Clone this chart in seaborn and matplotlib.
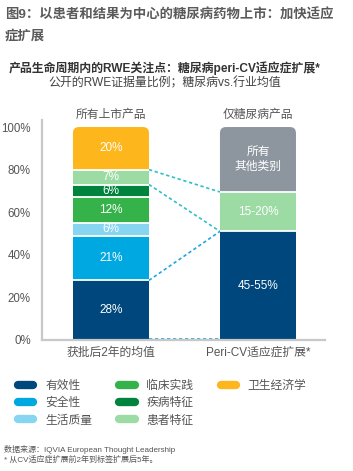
import numpy as np
import pandas as pd
import matplotlib
matplotlib.use("Agg")
import matplotlib.pyplot as plt
import seaborn as sns
from matplotlib.patches import FancyBboxPatch, Rectangle
from matplotlib.lines import Line2D

# data
products = ["获批后2年的均值", "Peri-CV适应症扩展*"]
top_labels = ["所有上市产品", "仅糖尿病产品"]
all_segments = ["有效性", "安全性", "生活质量", "临床实践", "疾病特征", "患者特征", "卫生经济学"]
all_values = [28, 21, 6, 12, 6, 7, 20]
all_texts = ["28%", "21%", "6%", "12%", "6%", "7%", "20%"]
dm_segments = ["有效性", "患者特征", "所有其他类别"]
dm_values = [51, 18.5, 30.5]
dm_texts = ["45-55%", "15-20%", "所有\n其他类别"]
yticks = [0, 20, 40, 60, 80, 100]

colors = {
    "有效性": "#00477d",
    "安全性": "#00a8e1",
    "生活质量": "#86d6f2",
    "临床实践": "#35b34a",
    "疾病特征": "#00833d",
    "患者特征": "#9cdba4",
    "卫生经济学": "#fdb61b",
    "所有其他类别": "#8d969f",
}

sns.set_style("white")
plt.rcParams["font.family"] = ["Liberation Sans", "Noto Sans CJK SC", "DejaVu Sans"]

W, H = 353, 471
fig = plt.figure(figsize=(W / 100, H / 100), dpi=100)
ax = fig.add_axes([42 / W, 1 - 340 / H, 283 / W, 220 / H])

bar_w = 0.517
rows = []
for seg, v, t in zip(all_segments, all_values, all_texts):
    rows.append((products[0], seg, v, t))
for seg, v, t in zip(dm_segments, dm_values, dm_texts):
    rows.append((products[1], seg, v, t))
df = pd.DataFrame(rows, columns=["product", "segment", "value", "text"])
df["bottom"] = df.groupby("product")["value"].cumsum() - df["value"]

for i, r in df.iterrows():
    sns.barplot(x=[r["product"]], y=[r["value"]], order=products, bottom=r["bottom"],
                color=colors[r["segment"]], width=bar_w, linewidth=0, saturation=1,
                ax=ax)
    xi = products.index(r["product"])
    ax.text(xi, r["bottom"] + r["value"] / 2, r["text"], ha="center", va="center",
            color="white", fontsize=8.5, linespacing=1.3)

# rounded tops for last segment of each bar
xpx = 1 / 147.0
aspect = (100 / 213.0) / xpx
for p in products:
    sub = df[df["product"] == p]
    last = sub.iloc[-1]
    xi = products.index(p)
    x0 = xi - bar_w / 2
    c = colors[last["segment"]]
    for patch in ax.patches:
        if abs(patch.get_x() - x0) < 1e-6 and abs(patch.get_y() - last["bottom"]) < 1e-6:
            patch.set_visible(False)
    ax.add_patch(FancyBboxPatch((x0, last["bottom"]), bar_w, last["value"],
                                boxstyle="round,pad=0,rounding_size=%f" % (6 * xpx),
                                mutation_aspect=aspect, fc=c, ec="none", zorder=2))
    ax.add_patch(Rectangle((x0, last["bottom"]), bar_w, last["value"] / 2,
                           fc=c, ec="none", zorder=2))
    bounds = sub["bottom"].values[1:]
    ax.hlines(bounds, x0, x0 + bar_w, color="white", lw=1.3, zorder=3)
    ax.text(xi, 105.8, top_labels[xi], ha="center", va="center", fontsize=8.5,
            color="#555555", clip_on=False)

# connector lines
e = bar_w / 2
b1 = np.cumsum([0] + all_values)
b2 = np.cumsum([0] + dm_values)
teal = "#2fc0c8"
blue = "#1ea7e1"
ax.plot([e, 1 - e], [b1[6], b2[2]], color=teal, lw=1.2, ls=(0, (2, 1.6)), zorder=1)
ax.plot([e, 1 - e], [b1[5], b2[1]], color=teal, lw=1.2, ls=(0, (2, 1.6)), zorder=1)
ax.plot([e, 1 - e], [b1[1], b2[1]], color=blue, lw=1.2, ls=(0, (2, 1.6)), zorder=1)
ax.plot([e, 1 - e], [0.6, 0.6], color=blue, lw=1.2, ls=(0, (2, 1.6)), zorder=1)

ax.set_xlim(-0.469, 1.456)
ax.set_ylim(0, 103.3)
ax.set_yticks(yticks)
ax.set_yticklabels([f"{t}%" for t in yticks], fontsize=8.3, color="#555555")
ax.set_xticks([0, 1])
ax.set_xticklabels(products, fontsize=8.5, color="#555555")
ax.tick_params(axis="both", length=0)
ax.tick_params(axis="y", pad=8)
ax.tick_params(axis="x", pad=5)
ax.set_xlabel("")
ax.set_ylabel("")
for s in ["top", "right"]:
    ax.spines[s].set_visible(False)
for s in ["left", "bottom"]:
    ax.spines[s].set_color("#c8c8c8")
    ax.spines[s].set_linewidth(1.6)

# titles
fig.text(5 / W, 1 - 15 / H, "图9：以患者和结果为中心的糖尿病药物上市：加快适应", fontsize=9.6,
         fontweight="bold", color="#5a5a5a", va="center", ha="left")
fig.text(5 / W, 1 - 36 / H, "症扩展", fontsize=9.6, fontweight="bold", color="#5a5a5a",
         va="center", ha="left")
fig.text(165 / W, 1 - 68 / H, "产品生命周期内的RWE关注点：糖尿病peri-CV适应症扩展*",
         fontsize=8.6, fontweight="bold", color="#333333", va="center", ha="center")
fig.text(165 / W, 1 - 83 / H, "公开的RWE证据量比例；糖尿病vs.行业均值", fontsize=8.6,
         color="#444444", va="center", ha="center")

# legend: 3 + 3 + 1 layout, padded with blank entries
handles = [Line2D([0], [0], color=colors[s], lw=6, solid_capstyle="round") for s in all_segments]
labels = list(all_segments)
blank = Line2D([0], [0], color="none", lw=0)
handles += [blank, blank]
labels += ["", ""]
fig.legend(handles, labels, ncol=3, loc="upper left", bbox_to_anchor=(12 / W, 1 - 374 / H),
           frameon=False, fontsize=8.5, handlelength=1.3, handletextpad=1.0,
           columnspacing=2.3, labelspacing=0.45, labelcolor="#555555", borderpad=0)

# footnotes
fig.text(4 / W, 1 - 450 / H, "数据来源：IQVIA European Thought Leadership", fontsize=5.8,
         color="#555555", va="center", ha="left")
fig.text(4 / W, 1 - 460 / H, "* 从CV适应症扩展前2年到标签扩展后5年。", fontsize=5.8,
         color="#555555", va="center", ha="left")

fig.savefig("out.png", dpi=100)
